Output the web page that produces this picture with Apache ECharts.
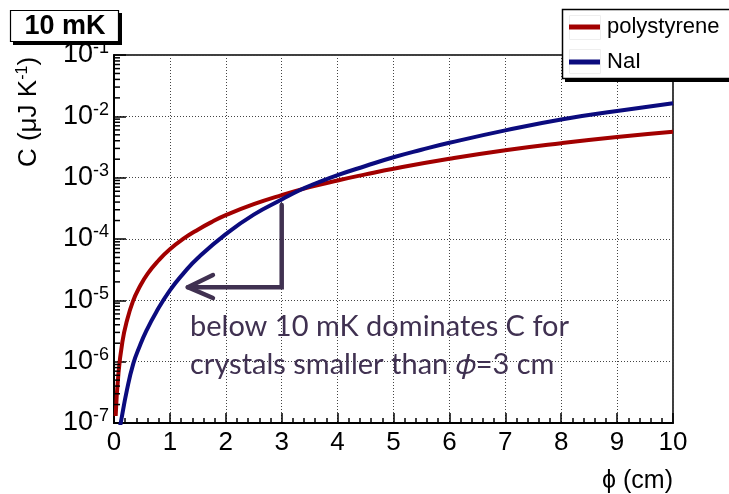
<!DOCTYPE html>
<html>
<head>
<meta charset="utf-8">
<script src="https://cdn.jsdelivr.net/npm/echarts@6/dist/echarts.min.js"></script>
<style>
  html, body { margin: 0; padding: 0; background: #fff; }
  #chart { width: 729px; height: 494px; }
</style>
</head>
<body>
<div id="chart"></div>
<script>
// Heat capacity at 10 mK versus crystal diameter
const phiPolystyrene = [0.03, 0.08, 0.15, 0.23, 0.34, 0.45, 0.6, 0.8, 1.0, 1.25, 1.5, 1.75, 2.0, 2.5, 3.0, 3.5, 4.0, 4.5, 5.0, 6.0, 7.0, 8.0, 9.0, 10.0];
const cPolystyrene   = [1.3e-7, 6.5e-7, 2.1e-6, 4.6e-6, 9.7e-6, 1.6e-5, 2.7e-5, 4.5e-5, 6.8e-5, 1.02e-4, 1.42e-4, 1.9e-4, 2.45e-4, 3.7e-4, 5.2e-4, 7.0e-4, 9.0e-4, 1.13e-3, 1.4e-3, 2.03e-3, 2.8e-3, 3.65e-3, 4.6e-3, 5.6e-3];

const phiNaI = [0.1, 0.12, 0.23, 0.345, 0.45, 0.58, 0.75, 1.0, 1.25, 1.5, 2.0, 2.5, 3.0, 3.33, 3.6, 4.0, 4.5, 5.0, 5.5, 6.0, 7.0, 8.0, 9.0, 10.0];
const cNaI   = [8e-8, 1.0e-7, 3.4e-7, 9.3e-7, 1.7e-6, 3.2e-6, 6.3e-6, 1.45e-5, 2.8e-5, 4.9e-5, 1.2e-4, 2.5e-4, 4.4e-4, 6.3e-4, 8.0e-4, 1.1e-3, 1.55e-3, 2.15e-3, 2.85e-3, 3.7e-3, 5.9e-3, 8.9e-3, 1.22e-2, 1.63e-2];

// annotation arrow (data coordinates): stem and head
const arrowStemPhi = [3.0, 3.0, 1.32];
const arrowStemC   = [3.57e-4, 1.64e-5, 1.64e-5];
const arrowHeadPhi = [1.77, 1.32, 1.77];
const arrowHeadC   = [2.58e-5, 1.64e-5, 1.09e-5];

// y-axis range (decades) and x ticks
const yMin = 1e-7, yMax = 1e-1;
const xTicks = [0, 1, 2, 3, 4, 5, 6, 7, 8, 9, 10];

// minor ticks of the log axis: 2..9 in every decade
const yMinorTicks = [];
for (let e = -7; e < -1; e++) {
  for (let m = 2; m <= 9; m++) yMinorTicks.push(m * Math.pow(10, e));
}

const zip = (xs, ys) => xs.map((x, i) => [x, ys[i]]);

const RED = '#a20000';
const BLUE = '#0b0b7e';
const NOTE = '#403151';
const FONT = '"Liberation Sans", Arial, sans-serif';

const chart = echarts.init(document.getElementById('chart'), null, { renderer: 'canvas' });

chart.setOption({
  animation: false,
  backgroundColor: '#fff',
  grid: { left: 114, right: 56, top: 55, bottom: 71, show: true, borderColor: '#000', borderWidth: 1.5, backgroundColor: 'transparent' },
  xAxis: {
    type: 'value', min: 0, max: 10, interval: 1,
    axisLine: { show: true, onZero: false, lineStyle: { color: '#000', width: 2 } },
    axisTick: { show: true, inside: true, length: 10, lineStyle: { color: '#000', width: 1.5 } },
    minorTick: { show: true, splitNumber: 5, length: 5, lineStyle: { color: '#000', width: 1.5 } },
    splitLine: { show: true, lineStyle: { color: '#444', width: 1, type: [1, 2] } },
    axisLabel: { color: '#000', fontFamily: FONT, fontSize: 26, margin: 7,
      formatter: v => xTicks.includes(v) ? String(v) : '' }
  },
  yAxis: {
    type: 'log', logBase: 10, min: yMin, max: yMax,
    axisLine: { show: true, onZero: false, lineStyle: { color: '#000', width: 2 } },
    axisTick: { show: true, inside: true, length: 12, lineStyle: { color: '#000', width: 1.5 } },
    splitLine: { show: true, lineStyle: { color: '#444', width: 1, type: [1, 2] } },
    axisLabel: {
      margin: 5,
      formatter: v => '{b|10}{s|' + Math.round(Math.log10(v)) + '}',
      rich: {
        b: { fontFamily: FONT, fontSize: 27, color: '#000' },
        s: { fontFamily: FONT, fontSize: 18, color: '#000', padding: [0, 0, 13, 0] }
      }
    }
  },
  legend: {
    data: ['polystyrene', 'NaI'],
    orient: 'vertical', left: 569, top: 16, padding: 0,
    icon: 'rect', itemWidth: 31, itemHeight: 5, itemGap: 13,
    textStyle: { fontFamily: FONT, fontSize: 22, color: '#000', lineHeight: 22, padding: [0, 0, 0, 2] }
  },
  series: [
    {
      name: 'polystyrene', type: 'line', data: zip(phiPolystyrene, cPolystyrene),
      showSymbol: false, smooth: 0.5, clip: true, z: 3,
      lineStyle: { color: RED, width: 4 }, itemStyle: { color: RED }
    },
    {
      name: 'NaI', type: 'line', data: zip(phiNaI, cNaI),
      showSymbol: false, smooth: 0.5, clip: true, z: 4,
      lineStyle: { color: BLUE, width: 4 }, itemStyle: { color: BLUE }
    },
    {
      name: 'arrow', type: 'line', data: zip(arrowStemPhi, arrowStemC),
      showSymbol: false, clip: false, z: 5, silent: true,
      lineStyle: { color: NOTE, width: 4.5, cap: 'round', join: 'miter' }
    },
    {
      name: 'arrowHead', type: 'line', data: zip(arrowHeadPhi, arrowHeadC),
      showSymbol: false, clip: false, z: 5, silent: true,
      lineStyle: { color: NOTE, width: 4.5, cap: 'round', join: 'round' }
    },
    {
      name: 'minorTicks', type: 'custom', data: yMinorTicks.map(v => [0, v]),
      clip: false, silent: true, z: 6,
      renderItem: (params, api) => {
        const p = api.coord([0, api.value(1)]);
        return { type: 'line', shape: { x1: p[0], y1: p[1], x2: p[0] + 6, y2: p[1] },
                 style: { stroke: '#000', lineWidth: 1.5 } };
      }
    }
  ],
  graphic: [
    // title box with drop shadow
    { type: 'rect', shape: { x: 13, y: 13, width: 109, height: 32 }, style: { fill: '#000' }, z: 10 },
    { type: 'rect', shape: { x: 10.5, y: 10.5, width: 108, height: 31 }, style: { fill: '#fff', stroke: '#000', lineWidth: 1.2 }, z: 11 },
    { type: 'text', x: 65, y: 27, z: 12,
      style: { text: '10 mK', fontFamily: FONT, fontWeight: 'bold', fontSize: 27, fill: '#000', align: 'center', verticalAlign: 'middle' } },
    // legend frame
    { type: 'rect', shape: { x: 565, y: 12, width: 170, height: 70 }, style: { fill: '#000' }, z: 1 },
    { type: 'rect', shape: { x: 562.5, y: 9.5, width: 170, height: 69 }, style: { fill: '#fff', stroke: '#000', lineWidth: 1.5 }, z: 2 },
    { type: 'rect', shape: { x: 569.5, y: 15.5, width: 31, height: 24 }, style: { fill: 'none', stroke: '#eee', lineWidth: 1 }, z: 3 },
    { type: 'rect', shape: { x: 569.5, y: 49.5, width: 31, height: 24 }, style: { fill: 'none', stroke: '#eee', lineWidth: 1 }, z: 3 },
    // axis titles
    { type: 'text', x: 29, y: 112, rotation: Math.PI / 2, z: 12,
      style: {
        text: '{t|C (μJ K}{s|-1}{t|)}', align: 'center', verticalAlign: 'middle',
        rich: {
          t: { fontFamily: FONT, fontSize: 26, fill: '#000' },
          s: { fontFamily: FONT, fontSize: 16, fill: '#000', padding: [0, 0, 12, 0] }
        }
      } },
    { type: 'text', x: 673, y: 481, z: 12,
      style: { text: 'ϕ (cm)', fontFamily: FONT + ', "DejaVu Sans"', fontSize: 25, fill: '#000', align: 'right', verticalAlign: 'middle' } },
    // annotation text
    { type: 'text', x: 190, y: 327, z: 12,
      style: { text: 'below 10 mK dominates C for', fontFamily: 'Lato, sans-serif', fontSize: 29, fill: NOTE, align: 'left', verticalAlign: 'middle' } },
    { type: 'text', x: 190, y: 365, z: 12,
      style: { text: 'crystals smaller than 𝜙=3 cm', fontFamily: 'Lato, "DejaVu Sans", sans-serif', fontSize: 29, fill: NOTE, align: 'left', verticalAlign: 'middle' } }
  ]
});
</script>
</body>
</html>
